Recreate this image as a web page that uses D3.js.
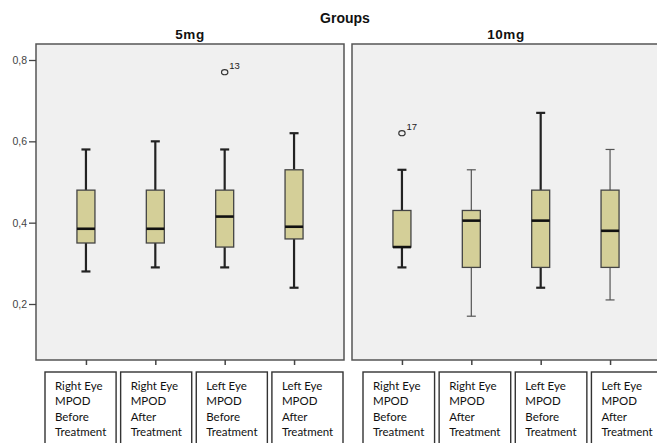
<!DOCTYPE html>
<html><head><meta charset="utf-8">
<script src="https://cdn.jsdelivr.net/npm/d3@7"></script>
<style>body{margin:0;background:#fff;} svg{display:block;}</style>
</head><body><svg id="c" width="657" height="443"></svg>
<script>
const groups = ["5mg", "10mg"];
const categories = ["Right Eye MPOD Before Treatment", "Right Eye MPOD After Treatment", "Left Eye MPOD Before Treatment", "Left Eye MPOD After Treatment"];
const labelLines = [["Right Eye","MPOD","Before","Treatment"],["Right Eye","MPOD","After","Treatment"],["Left Eye","MPOD","Before","Treatment"],["Left Eye","MPOD","After","Treatment"]];
// [min, q1, median, q3, max] per category
const stats5mg  = [[0.28,0.35,0.385,0.48,0.58],[0.29,0.35,0.385,0.48,0.60],[0.29,0.34,0.415,0.48,0.58],[0.24,0.36,0.39,0.53,0.62]];
const stats10mg = [[0.29,0.34,0.34,0.43,0.53],[0.17,0.29,0.405,0.43,0.53],[0.24,0.29,0.405,0.48,0.67],[0.21,0.29,0.38,0.48,0.58]];
const outliers5mg  = [{cat:2, value:0.77, label:"13"}];
const outliers10mg = [{cat:0, value:0.62, label:"17"}];
const yTicks = [0.2, 0.4, 0.6, 0.8];
const yTickLabels = ["0,2","0,4","0,6","0,8"];

const svg = d3.select("#c");
const y = d3.scaleLinear().domain([0.2, 0.8]).range([304, 60]);
const panels = [
  {name: groups[0], x0: 36, x1: 344, stats: stats5mg, outliers: outliers5mg, lab: [45, 343], thin: []},
  {name: groups[1], x0: 352, x1: 660, stats: stats10mg, outliers: outliers10mg, lab: [363, 663], thin: [1, 3]}
];
const panelTop = 44, panelBottom = 360;

svg.append("text").attr("x", 345).attr("y", 23).attr("text-anchor", "middle")
  .attr("font-family", "Liberation Sans, Arial, sans-serif").attr("font-weight", "bold")
  .attr("font-size", 14).attr("fill", "#111").text("Groups");

panels.forEach((p, pi) => {
  const g = svg.append("g");
  g.append("rect").attr("x", p.x0).attr("y", panelTop).attr("width", p.x1 - p.x0).attr("height", panelBottom - panelTop)
    .attr("fill", "#f0f0f0").attr("stroke", "#555").attr("stroke-width", 1.5);
  g.append("text").attr("x", (p.x0 + p.x1) / 2).attr("y", 39).attr("text-anchor", "middle")
    .attr("font-family", "Liberation Sans, Arial, sans-serif").attr("font-weight", "bold")
    .attr("font-size", 13.5).attr("letter-spacing", 0.6).attr("fill", "#111").text(p.name);
  const x = d3.scalePoint().domain(d3.range(categories.length)).range([p.x0, p.x1]).padding(0.72);
  const xa = d3.axisBottom(x).tickSize(5).tickFormat("");
  const ax = g.append("g").attr("transform", `translate(0,${panelBottom})`).call(xa);
  ax.select(".domain").remove();
  ax.selectAll("line").attr("stroke", "#444").attr("stroke-width", 1.5);
  if (pi === 0) {
    const ya = d3.axisLeft(y).tickValues(yTicks).tickSize(7).tickFormat((d, i) => yTickLabels[i]);
    const ay = g.append("g").attr("transform", `translate(${p.x0},0)`).call(ya);
    ay.select(".domain").remove();
    ay.selectAll("line").attr("stroke", "#444").attr("stroke-width", 1.3);
    ay.selectAll("text").attr("font-family", "Liberation Sans, Arial, sans-serif").attr("font-size", 10.5)
      .attr("fill", "#444").attr("dx", "1");
  }
  const bw = 18, cap = 9;
  p.stats.forEach((s, i) => {
    const cx = x(i);
    const thin = p.thin.includes(i);
    const wCol = thin ? "#555" : "#222", wW = thin ? 1.2 : 2.2;
    g.append("line").attr("x1", cx).attr("x2", cx).attr("y1", y(s[4])).attr("y2", y(s[3])).attr("stroke", wCol).attr("stroke-width", wW);
    g.append("line").attr("x1", cx).attr("x2", cx).attr("y1", y(s[1])).attr("y2", y(s[0])).attr("stroke", wCol).attr("stroke-width", wW);
    g.append("line").attr("x1", cx - cap / 2).attr("x2", cx + cap / 2).attr("y1", y(s[4])).attr("y2", y(s[4])).attr("stroke", wCol).attr("stroke-width", wW);
    g.append("line").attr("x1", cx - cap / 2).attr("x2", cx + cap / 2).attr("y1", y(s[0])).attr("y2", y(s[0])).attr("stroke", wCol).attr("stroke-width", wW);
    g.append("rect").attr("x", cx - bw / 2).attr("y", y(s[3])).attr("width", bw).attr("height", y(s[1]) - y(s[3]))
      .attr("fill", "#d4cf98").attr("stroke", "#444").attr("stroke-width", 1.3);
    g.append("line").attr("x1", cx - bw / 2).attr("x2", cx + bw / 2).attr("y1", y(s[2])).attr("y2", y(s[2]))
      .attr("stroke", "#111").attr("stroke-width", 2.6);
  });
  p.outliers.forEach(o => {
    g.append("ellipse").attr("cx", x(o.cat)).attr("cy", y(o.value)).attr("rx", 3.2).attr("ry", 2.6)
      .attr("fill", "none").attr("stroke", "#333").attr("stroke-width", 1.1);
    g.append("text").attr("x", x(o.cat) + 4.5).attr("y", y(o.value) - 3).attr("font-family", "Liberation Sans, Arial, sans-serif")
      .attr("font-size", 9.5).attr("fill", "#222").text(o.label);
  });
  const lb = d3.scaleBand().domain(d3.range(categories.length)).range(p.lab).paddingInner(0.06);
  categories.forEach((c, i) => {
    const bx = lb(i);
    g.append("rect").attr("x", bx).attr("y", 372).attr("width", lb.bandwidth()).attr("height", 80)
      .attr("fill", "#fff").attr("stroke", "#333").attr("stroke-width", 1.4);
    const t = g.append("text").attr("font-family", "Lato, 'Open Sans', sans-serif").attr("font-size", 11.5).attr("fill", "#111");
    labelLines[i].forEach((ln, k) => {
      t.append("tspan").attr("x", bx + 10).attr("y", 390 + k * 15.3).text(ln);
    });
  });
});
</script></body></html>
